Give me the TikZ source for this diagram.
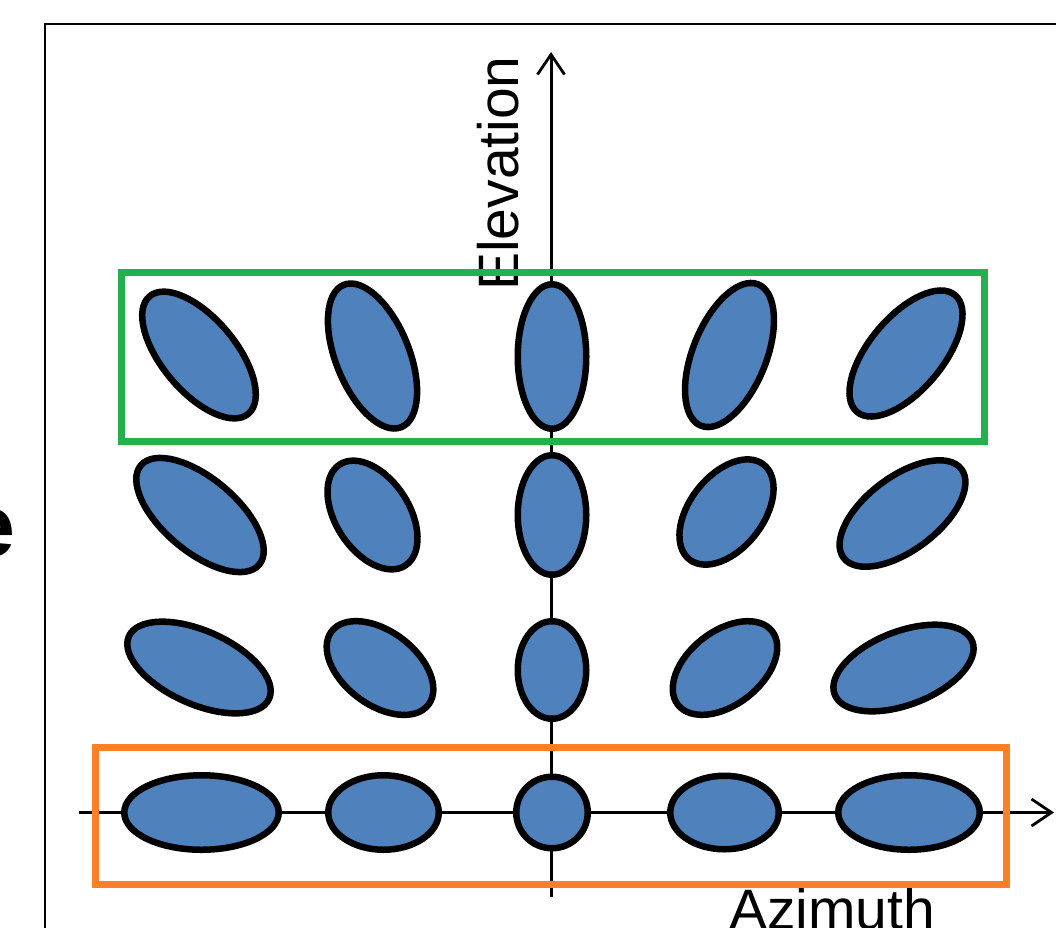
\documentclass[tikz,border=0pt]{standalone}
\usepackage{fontspec}
\setmainfont{Liberation Sans}
\usetikzlibrary{shapes.geometric,arrows.meta}
\definecolor{ellblue}{RGB}{79,129,189}
\definecolor{boxgreen}{RGB}{34,177,76}
\definecolor{boxorange}{RGB}{255,127,39}
\begin{document}
\begin{tikzpicture}[x=1pt,y=-1pt,
  spot/.style={ellipse,draw=black,line width=6.5pt,fill=ellblue,inner sep=0pt,outer sep=0pt},
  axisline/.style={line width=3pt,-{Straight Barb[length=20pt,width=27pt,line width=2.8pt]}},
  frameline/.style={line width=2.2pt},
  lbl/.style={font=\fontsize{57}{60}\selectfont,inner sep=0pt},
  greenbox/.style={line width=7pt,draw=boxgreen},
  orangebox/.style={line width=7pt,draw=boxorange}]
\useasboundingbox (0,0) rectangle (1056,927);
\clip (0,0) rectangle (1056,927);
% frame
\coordinate (fb) at (45,940);
\coordinate (fc) at (45,24);
\coordinate (fr) at (1070,24);
\draw[frameline] (fb) -- (fc) -- (fr);
% fragment of text cut at left edge
\node[font=\fontsize{88}{90}\selectfont\bfseries,inner sep=0pt,anchor=base east] (frag) at (15.5,556) {e};
% axes
\coordinate (hstart) at (79,812.5);
\coordinate (hend) at (1054,812.5);
\coordinate (vbot) at (551,897);
\coordinate (vtop) at (551,52);
\draw[axisline] (vbot) -- (vtop);
\draw[axisline] (hstart) -- (hend);
% labels
\node[lbl,rotate=90,anchor=base west] (elev) at (518,291) {Elevation};
\node[lbl,anchor=base west] (azim) at (729,929) {Azimuth};
% row 1
\node[spot,minimum width=153.5pt,minimum height=73.5pt,rotate=-50] (e11) at (199,355) {};
\node[spot,minimum width=153.5pt,minimum height=73.5pt,rotate=-68] (e12) at (372.5,356) {};
\node[spot,minimum width=144.5pt,minimum height=68.5pt,rotate=90] (e13) at (552,356.5) {};
\node[spot,minimum width=152.5pt,minimum height=73.5pt,rotate=68] (e14) at (729.5,355) {};
\node[spot,minimum width=152.5pt,minimum height=73.5pt,rotate=50] (e15) at (906,353.5) {};
% row 2
\node[spot,minimum width=154.5pt,minimum height=73.5pt,rotate=-40] (e21) at (200,515) {};
\node[spot,minimum width=120.5pt,minimum height=73.5pt,rotate=-57] (e22) at (372.5,515) {};
\node[spot,minimum width=119.5pt,minimum height=68.5pt,rotate=90] (e23) at (552,515) {};
\node[spot,minimum width=120.5pt,minimum height=73.5pt,rotate=52] (e24) at (726.5,512) {};
\node[spot,minimum width=147.5pt,minimum height=73.5pt,rotate=37] (e25) at (902.5,513.5) {};
% row 3
\node[spot,minimum width=153.5pt,minimum height=73.5pt,rotate=-24] (e31) at (199,667.5) {};
\node[spot,minimum width=121.5pt,minimum height=73.5pt,rotate=-37] (e32) at (380,668) {};
\node[spot,minimum width=97.5pt,minimum height=68.5pt,rotate=90] (e33) at (552,670) {};
\node[spot,minimum width=119.5pt,minimum height=73.5pt,rotate=38] (e34) at (725,668) {};
\node[spot,minimum width=147.5pt,minimum height=73.5pt,rotate=21] (e35) at (903.5,668) {};
% row 4
\node[spot,minimum width=154.5pt,minimum height=74.5pt] (e41) at (201.5,812.5) {};
\node[spot,minimum width=110.5pt,minimum height=74.5pt] (e42) at (383.5,812.5) {};
\node[spot,minimum width=71.5pt,minimum height=71.5pt] (e43) at (552,812.5) {};
\node[spot,minimum width=108.5pt,minimum height=73.5pt] (e44) at (724.5,812.5) {};
\node[spot,minimum width=141.5pt,minimum height=74.5pt] (e45) at (909,812.5) {};
% highlight boxes
\draw[greenbox] (121,272) rectangle (984,441);
\draw[orangebox] (95.5,747) rectangle (1006,884);
\end{tikzpicture}
\end{document}
